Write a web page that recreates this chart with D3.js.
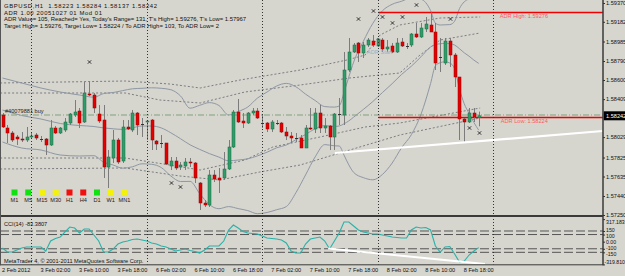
<!DOCTYPE html>
<html>
<head>
<meta charset="utf-8">
<script src="https://cdn.jsdelivr.net/npm/d3@7"></script>
<style>
  html,body{margin:0;padding:0;background:#d6d5ce;}
  svg{display:block;}
  text{font-family:"Liberation Sans",Arial,sans-serif;white-space:pre;}
</style>
</head>
<body>
<script>
// etiquetas de tiempo (cada 8 barras) y del eje de precios
var timeLabels = ["2 Feb 2012","3 Feb 02:00","3 Feb 10:00","3 Feb 18:00","6 Feb 02:00","6 Feb 10:00",
  "6 Feb 18:00","7 Feb 02:00","7 Feb 10:00","7 Feb 18:00","8 Feb 02:00","8 Feb 10:00","8 Feb 18:00"];
var priceTicks = [1.59370,1.59182,1.58985,1.58790,1.58600,1.58409,1.58029,1.57825,1.57635,1.57440,1.57250];
var cciTicks = [317.183,150,100,0,-100,-150,-319.810];
var cciTickText = ["317.183","150","100","0.00","-100","-150","-319.810"];
var daySeparators = [6,30,54,78,102];

// velas H1 (barra 0 = 2 Feb 18:00)
var openP = [1.5825,1.5812,1.5807,1.5803,1.5801,1.5800,1.5803,1.5805,1.5801,1.5801,
  1.5795,1.5812,1.5807,1.5810,1.5817,1.5825,1.5829,1.5818,1.5846,1.5845,
  1.5826,1.5820,1.5773,1.5782,1.5800,1.5779,1.5813,1.5810,1.5827,1.5816,
  1.5818,1.5820,1.5799,1.5797,1.5797,1.5774,1.5779,1.5773,1.5774,1.5778,
  1.5777,1.5757,1.5737,1.5735,1.5765,1.5762,1.5762,1.5771,1.5793,1.5828,
  1.5819,1.5817,1.5827,1.5829,1.5817,1.5817,1.5811,1.5817,1.5817,1.5808,
  1.5804,1.5802,1.5802,1.5792,1.5812,1.5811,1.5827,1.5812,1.5814,1.5803,
  1.5826,1.5825,1.5870,1.5888,1.5897,1.5887,1.5895,1.5899,1.5894,1.5900,
  1.5891,1.5894,1.5888,1.5898,1.5894,1.5895,1.5906,1.5903,1.5911,1.5915,
  1.5908,1.5883,1.5877,1.5899,1.5885,1.5863,1.5821,1.5818,1.5827,1.58223];
var highP = [1.5827,1.5815,1.5809,1.5805,1.5808,1.5813,1.5807,1.5807,1.5804,1.5802,
  1.5820,1.5814,1.5813,1.5822,1.5827,1.5840,1.5832,1.5858,1.5858,1.5847,
  1.5835,1.5835,1.5790,1.5810,1.5802,1.5820,1.5820,1.5830,1.5828,1.5822,
  1.5820,1.5821,1.5800,1.5805,1.5797,1.5783,1.5783,1.5778,1.5782,1.5782,
  1.5778,1.5758,1.5740,1.5770,1.5770,1.5772,1.5788,1.5800,1.5830,1.5841,
  1.5827,1.5828,1.5832,1.5832,1.5825,1.5818,1.5820,1.5820,1.5818,1.5813,
  1.5808,1.5807,1.5805,1.5815,1.5832,1.5832,1.5835,1.5822,1.5815,1.5827,
  1.5842,1.5888,1.5902,1.5897,1.5898,1.5898,1.5902,1.5905,1.5902,1.5902,
  1.5900,1.5897,1.5902,1.5902,1.5897,1.5907,1.5917,1.5917,1.5923,1.59276,
  1.5917,1.5902,1.5902,1.5902,1.5887,1.5863,1.5822,1.5832,1.5832,1.58284];
var lowP = [1.5812,1.5797,1.5798,1.5795,1.5798,1.5798,1.5801,1.5800,1.5798,1.5785,
  1.5794,1.5806,1.5806,1.5808,1.5815,1.5823,1.5812,1.5817,1.5844,1.5827,
  1.5817,1.5762,1.5752,1.5777,1.5776,1.5777,1.5810,1.5808,1.5805,1.5803,
  1.5800,1.5790,1.5790,1.5792,1.5775,1.5770,1.5770,1.5770,1.5770,1.5773,
  1.5757,1.5730,1.5733,1.5733,1.5758,1.5747,1.5760,1.5770,1.5792,1.5817,
  1.5812,1.5816,1.5825,1.5821,1.5812,1.5808,1.5808,1.5815,1.5807,1.5800,
  1.5797,1.5798,1.5792,1.5792,1.5810,1.5807,1.5807,1.5807,1.5790,1.5790,
  1.5815,1.5815,1.5868,1.5887,1.5878,1.5882,1.5893,1.5893,1.5893,1.5888,
  1.5888,1.5887,1.5887,1.5893,1.5891,1.5893,1.5902,1.5902,1.5908,1.5908,
  1.5870,1.5868,1.5875,1.5873,1.5853,1.5800,1.5798,1.5817,1.5818,1.58137];
var closeP = [1.5813,1.5807,1.5800,1.5801,1.58005,1.5803,1.5804,1.5802,1.58008,1.5795,
  1.5812,1.5807,1.5812,1.5818,1.5826,1.5828,1.5817,1.5847,1.5845,1.5832,
  1.5819,1.5773,1.5783,1.5800,1.5778,1.5813,1.5811,1.5827,1.5815,1.58158,
  1.5819,1.5800,1.5796,1.57968,1.5776,1.5779,1.5772,1.5775,1.5778,1.5777,
  1.5762,1.5737,1.5735,1.5765,1.5761,1.5760,1.5771,1.5793,1.5828,1.5818,
  1.5817,1.5827,1.5829,1.5822,1.58168,1.5811,1.5818,1.58168,1.5808,1.5804,
  1.5802,1.58018,1.5792,1.5812,1.5811,1.5827,1.5812,1.5814,1.5803,1.5826,
  1.58258,1.5870,1.5888,1.5895,1.5887,1.5895,1.5900,1.5895,1.5901,1.5891,
  1.5893,1.5888,1.5897,1.5894,1.58938,1.5906,1.5903,1.5912,1.5916,1.5908,
  1.5877,1.58828,1.5899,1.5885,1.5863,1.5821,1.5818,1.5827,1.5823,1.58242];

// bandas de Bollinger
var bbBar = [0,4,8,12,16,19,21,23,25,27,29,31,33,35,37,39,41,43,45,47,49,51,53,55,57,59,61,63,65,67,
  69,70,71,72,73,75,77,79,81,83,85,87,89,90,91,92,93,94,95,96,97,98,99];
var bbUpper = [1.58620,1.58570,1.58520,1.58480,1.58450,1.58428,1.58464,1.58475,1.58494,1.58512,
  1.58517,1.58522,1.58517,1.58503,1.58441,1.58318,1.58347,1.58374,1.58345,1.58250,
  1.58285,1.58330,1.58419,1.58480,1.58540,1.58566,1.58532,1.58459,1.58395,1.58334,
  1.58329,1.58340,1.58474,1.58631,1.58779,1.58985,1.59167,1.59293,1.59357,1.59388,
  1.59422,1.59408,1.59294,1.59168,1.59150,1.59152,1.59154,1.59188,1.59314,1.59382,
  1.59410,1.59423,1.59432];
var bbMid = [1.58300,1.58245,1.58210,1.58165,1.58145,1.58135,1.58121,1.58112,1.58106,1.58122,
  1.58140,1.58140,1.58121,1.58072,1.58013,1.57952,1.57906,1.57864,1.57829,1.57792,
  1.57800,1.57812,1.57841,1.57878,1.57922,1.57950,1.58003,1.58055,1.58113,1.58144,
  1.58136,1.58140,1.58162,1.58191,1.58228,1.58305,1.58385,1.58475,1.58563,1.58657,
  1.58738,1.58832,1.58930,1.58955,1.58962,1.58967,1.58962,1.58950,1.58913,1.58872,
  1.58838,1.58799,1.58766];
var bbLower = [1.57980,1.57920,1.57900,1.57850,1.57840,1.57843,1.57779,1.57750,1.57718,1.57732,
  1.57762,1.57757,1.57725,1.57640,1.57585,1.57586,1.57464,1.57354,1.57313,1.57334,
  1.57314,1.57294,1.57263,1.57275,1.57303,1.57334,1.57473,1.57650,1.57831,1.57954,
  1.57942,1.57940,1.57849,1.57751,1.57676,1.57624,1.57602,1.57656,1.57769,1.57925,
  1.58053,1.58256,1.58565,1.58742,1.58773,1.58782,1.58770,1.58712,1.58512,1.58362,
  1.58266,1.58175,1.58099];

// lineas punteadas (barra, precio)
var dotUpper1 = [[-0.5,1.5857],[25.5,1.5859],[34.8,1.5856],[41.1,1.5852],[49.4,1.5860],[61.9,1.5870],
  [71.6,1.5880],[75.4,1.5885],[78.5,1.5905],[82.6,1.5915],[91,1.5922],[99.3,1.5923]];
var dotUpper2 = [[-0.5,1.5847],[25.5,1.5847],[32.7,1.5840],[41.1,1.5837],[50.4,1.5848],[61.9,1.5855],
  [72.2,1.5862],[82.6,1.5867],[86.8,1.5885],[91,1.5900],[99.3,1.5907]];
var dotLower1 = [[-0.5,1.5782],[25.5,1.5782],[34.8,1.5775],[41.1,1.5770],[50.4,1.5780],[56.2,1.5793],
  [66,1.5803],[75.4,1.5813],[82.6,1.5817],[99.3,1.5832]];
var dotLower2 = [[-0.5,1.5771],[25.5,1.5772],[36.9,1.5764],[45.2,1.5760],[53.5,1.5768],[61.9,1.5775],
  [72.2,1.5790],[82.6,1.5805],[99.3,1.5822]];

// marcas pequeñas (barra, precio)
var marks = [[18,1.5878],[35,1.5757],[37,1.5753],[74,1.5921],[77,1.5929],[79,1.5923],[81,1.5917],
  [83,1.5923],[86,1.5935],[93,1.5921],[97,1.5812],[99,1.5807]];

// niveles y lineas de tendencia
var adrStartBar = 78, adrHigh = 1.59276, adrLow = 1.58224, orderPrice = 1.58250, lastPrice = 1.58242;
var priceTrend = [[69.1,1.5787],[124.8,1.5809]];
var cciTrend = [[67.7,-95],[100.3,-315]];
var cciLevels = [150,100,-100,-150];

// CCI(14) por barra
var cciVals = [-89,-146,-146,-118,-89,-75,-75,-75,-75,-132,
  9,44,65,136,206,192,122,178,178,94,
  9,-146,-146,-104,-33,-5,9,30,37,23,
  9,-19,-33,-61,-75,-104,-132,-118,-104,-125,
  -139,-160,-118,-61,-61,-61,9,164,234,192,
  143,122,115,108,80,51,44,37,23,-19,
  -132,-160,-160,-33,37,51,65,9,-104,9,
  122,277,277,220,164,136,122,108,108,94,
  80,65,58,51,51,164,206,192,199,164,
  -61,-146,-75,-68,-174,-287,-273,-188,-132,-83.38];

// semaforo de marcos temporales
var tfNames = ["M1","M5","M15","M30","H1","H4","D1","W1","MN1"];
var tfState = ["up","up","flat","flat","down","down","up","flat","flat"];

var infoLines = ["GBPUSD,H1  1.58223 1.58284 1.58137 1.58242",
  "ADR 1.00 20051027 01 Mod 01",
  "ADR Value= 105, Reached= Yes, Today's Range= 131, T's High= 1.59276, T's Low= 1.57967",
  "Target High= 1.59276, Target Low= 1.58224 / To ADR High= 103, To ADR Low= 2"];
var infoWidths = [153, 98, 242, 215];

//Tamaños y paneles
var W = 625, H = 276,
    mainTop = 0, mainBot = 215,
    cciTop = 219.1, cciBot = 264.4,
    axisX = 603,
    fs = 5.6;

var x = d3.scaleLinear().domain([0, 125]).range([2.5, 603.75]);
var y = d3.scaleLinear().domain([1.5725, 1.5940]).range([mainBot, mainTop]);
var yc = d3.scaleLinear().domain([-319.81, 317.183]).range([cciBot, cciTop]);
var tfX = d3.scalePoint().domain(tfNames).range([14.5, 124.5]);
var tfColor = {up: "#11e011", flat: "#f2f20c", down: "#f01010"};

function px(i) { return Math.round(x(i)) + 0.5; }

var svg = d3.select("body").append("svg")
    .attr("width", W)
    .attr("height", H);

svg.append("rect").attr("width", W).attr("height", H).attr("fill", "#d6d5ce");

var defs = svg.append("defs");
defs.append("clipPath").attr("id", "clipMain").append("rect")
    .attr("x", 0).attr("y", mainTop).attr("width", axisX).attr("height", mainBot - mainTop);
defs.append("clipPath").attr("id", "clipCci").append("rect")
    .attr("x", 0).attr("y", 218).attr("width", axisX).attr("height", 46.5);

var main = svg.append("g").attr("clip-path", "url(#clipMain)");
var cci = svg.append("g").attr("clip-path", "url(#clipCci)");

//Separadores de dias
svg.append("g").selectAll("line")
    .data(daySeparators)
    .enter().append("line")
    .attr("x1", function(d) { return px(d); })
    .attr("x2", function(d) { return px(d); })
    .attr("y1", 0).attr("y2", cciBot)
    .attr("stroke", "#333")
    .attr("stroke-dasharray", "1,2");

//Lineas punteadas
var lineP = d3.line().x(function(d) { return x(d[0]); }).y(function(d) { return y(d[1]); });
main.selectAll(".dot")
    .data([dotUpper1, dotUpper2, dotLower1, dotLower2])
    .enter().append("path")
    .attr("d", lineP)
    .attr("fill", "none")
    .attr("stroke", "#7b7d80")
    .attr("stroke-dasharray", "2,2");

//Bandas de Bollinger
var bands = [bbUpper, bbMid, bbLower].map(function(arr) {
  return arr.map(function(v, j) { return [bbBar[j], v]; });
});
main.selectAll(".bb")
    .data(bands)
    .enter().append("path")
    .attr("d", lineP.curve(d3.curveMonotoneX))
    .attr("fill", "none")
    .attr("stroke", "#8e98a4")
    .attr("stroke-width", 1);
lineP.curve(d3.curveLinear);

//Linea de la orden
main.append("line")
    .attr("x1", 0).attr("x2", axisX)
    .attr("y1", y(orderPrice)).attr("y2", y(orderPrice))
    .attr("stroke", "#7fa27f")
    .attr("stroke-dasharray", "6,2,1,2");
svg.append("text").attr("x", 5).attr("y", y(orderPrice) - 1.8)
    .attr("font-size", fs).attr("fill", "#222").text("#40079881 buy");

//Lineas ADR
[adrHigh, adrLow].forEach(function(p) {
  main.append("line")
      .attr("x1", px(adrStartBar)).attr("x2", axisX)
      .attr("y1", y(p)).attr("y2", y(p))
      .attr("stroke", "#f00000")
      .attr("stroke-width", 1.5);
});
svg.append("text").attr("x", x(103.4)).attr("y", y(adrHigh) + 5.3)
    .attr("font-size", fs).attr("fill", "#ff5a5a").text("ADR High: 1.59276");
svg.append("text").attr("x", x(103.6)).attr("y", y(adrLow) + 5.4)
    .attr("font-size", fs).attr("fill", "#ff5a5a").text("ADR Low: 1.58224");
svg.append("text").attr("x", x(75.8)).attr("y", y(1.5886))
    .attr("font-size", fs).attr("fill", "#9cb0c6").text("ADR Start");

//Velas
var bars = d3.range(openP.length).map(function(i) {
  return {i: i, o: openP[i], h: highP[i], l: lowP[i], c: closeP[i]};
});
main.append("g").selectAll("line")
    .data(bars)
    .enter().append("line")
    .attr("x1", function(d) { return px(d.i); })
    .attr("x2", function(d) { return px(d.i); })
    .attr("y1", function(d) { return y(d.h); })
    .attr("y2", function(d) { return y(d.l); })
    .attr("stroke", "#7c7c7c");
main.append("g").selectAll("rect")
    .data(bars)
    .enter().append("rect")
    .attr("x", function(d) { return px(d.i) - 1.5; })
    .attr("width", 3)
    .attr("y", function(d) { return y(Math.max(d.o, d.c)); })
    .attr("height", function(d) { return Math.max(1, Math.abs(y(d.o) - y(d.c))); })
    .attr("fill", function(d) {
      if (Math.abs(d.o - d.c) < 0.00004) return "#333";
      return d.c > d.o ? "#2f9d68" : "#e40000";
    })
    .attr("stroke", function(d) {
      if (Math.abs(d.o - d.c) < 0.00004) return "none";
      return d.c > d.o ? "#1d6a45" : "#9a0000";
    })
    .attr("stroke-width", 0.5);

//Marcas
main.append("g").selectAll("path")
    .data(marks)
    .enter().append("path")
    .attr("transform", function(d) { return "translate(" + [px(d[0]), y(d[1])] + ")"; })
    .attr("d", d3.symbol().type(d3.symbolTimes).size(9))
    .attr("stroke", "#222")
    .attr("stroke-width", 0.9)
    .attr("fill", "none");

//Linea de tendencia blanca
main.append("path")
    .attr("d", lineP(priceTrend))
    .attr("stroke", "#ffffff")
    .attr("stroke-width", 2.2)
    .attr("fill", "none");

//Semaforo
svg.append("g").selectAll("rect")
    .data(tfNames)
    .enter().append("rect")
    .attr("x", function(d) { return tfX(d) - 3; })
    .attr("y", 189.5)
    .attr("width", 6).attr("height", 6)
    .attr("fill", function(d, i) { return tfColor[tfState[i]]; });
svg.append("g").selectAll("text")
    .data(tfNames)
    .enter().append("text")
    .attr("x", function(d) { return tfX(d); })
    .attr("y", 202)
    .attr("text-anchor", "middle")
    .attr("font-size", fs)
    .attr("fill", "#222")
    .text(function(d) { return d; });

//Textos de informacion
svg.append("g").selectAll("text")
    .data(infoLines)
    .enter().append("text")
    .attr("x", 4)
    .attr("y", function(d, i) { return 8 + i * 6.7; })
    .attr("font-size", 5.9)
    .attr("fill", "#111")
    .attr("textLength", function(d, i) { return infoWidths[i]; })
    .attr("lengthAdjust", "spacing")
    .text(function(d) { return d; });

//Panel CCI
cci.selectAll(".lvl")
    .data(cciLevels)
    .enter().append("line")
    .attr("x1", 0).attr("x2", axisX)
    .attr("y1", function(d) { return yc(d); })
    .attr("y2", function(d) { return yc(d); })
    .attr("stroke", "#555")
    .attr("stroke-dasharray", "9,3");

var lineC = d3.line().x(function(d, i) { return x(i); }).y(function(d) { return yc(d); });
cci.append("path")
    .attr("d", lineC(cciVals))
    .attr("fill", "none")
    .attr("stroke", "#27b3aa")
    .attr("stroke-width", 1.1);

cci.append("path")
    .attr("d", d3.line().x(function(d) { return x(d[0]); }).y(function(d) { return yc(d[1]); })(cciTrend))
    .attr("stroke", "#ffffff")
    .attr("stroke-width", 2)
    .attr("fill", "none");

svg.append("text").attr("x", 4).attr("y", 225.5)
    .attr("font-size", fs).attr("fill", "#111").text("CCI(14) -83.3807");
svg.append("text").attr("x", 4).attr("y", 263)
    .attr("font-size", fs).attr("fill", "#111").text("MetaTrader 4, \u00a9 2001-2011 MetaQuotes Software Corp.");

//Bordes
svg.append("line").attr("x1", 0).attr("x2", axisX).attr("y1", 216).attr("y2", 216)
    .attr("stroke", "#3a3a3a").attr("stroke-width", 2);
svg.append("line").attr("x1", 0).attr("x2", axisX).attr("y1", 264.8).attr("y2", 264.8)
    .attr("stroke", "#3a3a3a").attr("stroke-width", 1);
svg.append("line").attr("x1", axisX).attr("x2", axisX).attr("y1", 0).attr("y2", 265.3)
    .attr("stroke", "#3a3a3a").attr("stroke-width", 1.5);
svg.append("line").attr("x1", 0.5).attr("x2", 0.5).attr("y1", 0).attr("y2", 265.3)
    .attr("stroke", "#555").attr("stroke-width", 1);

//Eje de precios
var yAxis = d3.axisRight(y).tickValues(priceTicks).tickSize(2).tickPadding(1)
    .tickFormat(d3.format(".5f"));
var gy = svg.append("g").attr("transform", "translate(" + axisX + ",0)").call(yAxis);
gy.select(".domain").remove();
gy.attr("font-size", fs).attr("font-family", "Liberation Sans, Arial, sans-serif");
gy.selectAll("line").attr("stroke", "#333");
gy.selectAll("text").attr("fill", "#111");

//Eje del CCI (etiquetas algo separadas para que no se pisen)
var cciDy = ["0.9em", "0.05em", "0.62em", "0.32em", "0.05em", "0.62em", "-0.15em"];
var ycAxis = d3.axisRight(yc).tickValues(cciTicks).tickSize(2).tickPadding(1)
    .tickFormat(function(d, i) { return cciTickText[i]; });
var gc = svg.append("g").attr("transform", "translate(" + axisX + ",0)").call(ycAxis);
gc.select(".domain").remove();
gc.attr("font-size", 5.2).attr("font-family", "Liberation Sans, Arial, sans-serif");
gc.selectAll("line").attr("stroke", "#333");
gc.selectAll("text").attr("fill", "#111")
    .attr("x", function(d, i) { return i == cciTicks.length - 1 ? 1.5 : 3; })
    .attr("dy", function(d, i) { return cciDy[i]; });

//Precio actual
svg.append("rect")
    .attr("x", axisX + 0.8).attr("y", y(lastPrice) - 4.5)
    .attr("width", W - axisX).attr("height", 9)
    .attr("fill", "#000");
svg.append("text")
    .attr("x", axisX + 3).attr("y", y(lastPrice) + 2)
    .attr("font-size", fs).attr("fill", "#fff").text(d3.format(".5f")(lastPrice));

//Eje de tiempo
var xAxis = d3.axisBottom(x).tickValues(d3.range(0, 97, 8)).tickSize(0).tickPadding(0)
    .tickFormat(function(d, i) { return timeLabels[i]; });
var gx = svg.append("g").attr("transform", "translate(0,268.5)").call(xAxis);
gx.select(".domain").remove();
gx.attr("font-size", fs).attr("font-family", "Liberation Sans, Arial, sans-serif");
gx.selectAll("text").attr("fill", "#111").attr("text-anchor", "start").attr("x", -1);
</script>
</body>
</html>
